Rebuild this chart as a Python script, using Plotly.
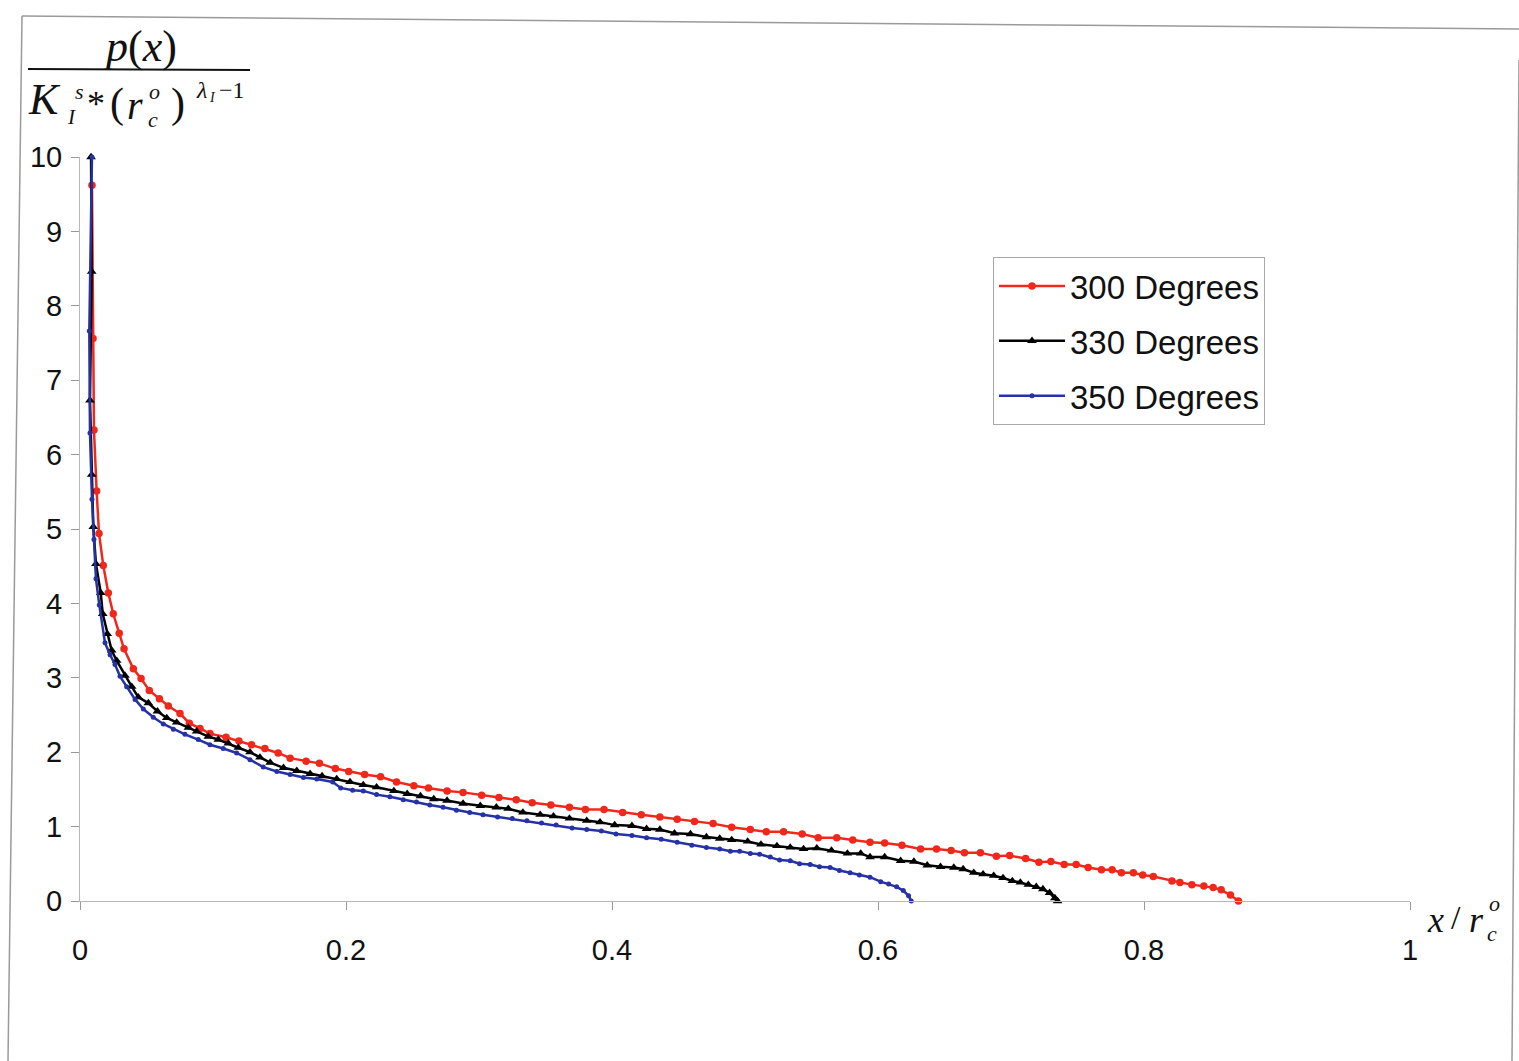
import plotly.graph_objects as go

# ---------------- data ----------------
x_300 = [0.009, 0.0098, 0.0105, 0.0125, 0.0143, 0.0175, 0.0213, 0.0250, 0.0295, 0.0331,
         0.0401, 0.0459, 0.0521, 0.0597, 0.0664, 0.0752, 0.0822, 0.0902, 0.0977, 0.1098,
         0.1195, 0.129, 0.139, 0.149, 0.158, 0.170, 0.180, 0.192, 0.202, 0.214,
         0.226, 0.238, 0.251, 0.262, 0.276, 0.288, 0.302, 0.315, 0.328, 0.340,
         0.354, 0.368, 0.380, 0.394, 0.408, 0.422, 0.436, 0.449, 0.462, 0.476,
         0.490, 0.504, 0.516, 0.529, 0.543, 0.555, 0.569, 0.581, 0.594, 0.605,
         0.618, 0.632, 0.644, 0.655, 0.665, 0.677, 0.689, 0.699, 0.711, 0.721,
         0.730, 0.740, 0.749, 0.758, 0.768, 0.776, 0.783, 0.792, 0.799, 0.807,
         0.821, 0.827, 0.836, 0.845, 0.852, 0.858, 0.865, 0.871]
y_300 = [9.62, 7.56, 6.33, 5.51, 4.94, 4.51, 4.14, 3.86, 3.60, 3.39,
         3.12, 2.99, 2.83, 2.72, 2.62, 2.52, 2.39, 2.32, 2.25, 2.20,
         2.15, 2.10, 2.05, 1.99, 1.92, 1.88, 1.85, 1.78, 1.74, 1.70,
         1.67, 1.60, 1.55, 1.52, 1.48, 1.46, 1.42, 1.39, 1.36, 1.32,
         1.29, 1.26, 1.23, 1.23, 1.19, 1.16, 1.13, 1.10, 1.07, 1.04,
         0.99, 0.96, 0.93, 0.93, 0.90, 0.85, 0.85, 0.82, 0.79, 0.78,
         0.75, 0.70, 0.70, 0.68, 0.65, 0.65, 0.60, 0.61, 0.57, 0.52,
         0.53, 0.49, 0.49, 0.45, 0.42, 0.42, 0.38, 0.38, 0.35, 0.33,
         0.27, 0.25, 0.22, 0.20, 0.18, 0.15, 0.08, 0.00]

x_330 = [0.0083, 0.0088, 0.0075, 0.0088, 0.0100, 0.0120, 0.0156, 0.0171, 0.0205, 0.0238,
         0.0276, 0.0338, 0.0389, 0.0438, 0.0514, 0.0582, 0.0652, 0.0727, 0.0815, 0.0877,
         0.0965, 0.1040, 0.1115, 0.1190, 0.1278, 0.1353, 0.143, 0.153, 0.163, 0.173,
         0.182, 0.193, 0.203, 0.213, 0.223, 0.236, 0.246, 0.256, 0.266, 0.276,
         0.288, 0.301, 0.313, 0.322, 0.333, 0.346, 0.356, 0.368, 0.381, 0.391,
         0.402, 0.415, 0.426, 0.436, 0.447, 0.459, 0.471, 0.481, 0.490, 0.502,
         0.512, 0.524, 0.534, 0.544, 0.554, 0.565, 0.577, 0.587, 0.594, 0.605,
         0.617, 0.627, 0.637, 0.647, 0.657, 0.664, 0.672, 0.679, 0.687, 0.694,
         0.701, 0.707, 0.713, 0.719, 0.724, 0.729, 0.733, 0.735]
y_330 = [10.0, 8.46, 6.73, 5.73, 5.03, 4.53, 4.14, 3.86, 3.59, 3.37,
         3.23, 3.03, 2.88, 2.74, 2.66, 2.55, 2.46, 2.40, 2.33, 2.28,
         2.21, 2.17, 2.12, 2.06, 2.00, 1.93, 1.86, 1.79, 1.75, 1.71,
         1.68, 1.64, 1.60, 1.56, 1.53, 1.48, 1.44, 1.41, 1.37, 1.35,
         1.31, 1.28, 1.26, 1.24, 1.19, 1.16, 1.14, 1.11, 1.08, 1.06,
         1.02, 1.01, 0.97, 0.96, 0.91, 0.90, 0.86, 0.84, 0.82, 0.80,
         0.76, 0.74, 0.72, 0.70, 0.71, 0.68, 0.64, 0.64, 0.59, 0.59,
         0.54, 0.53, 0.48, 0.46, 0.45, 0.43, 0.38, 0.36, 0.34, 0.31,
         0.27, 0.25, 0.22, 0.19, 0.16, 0.11, 0.04, 0.00]

x_350 = [0.0090, 0.0070, 0.0075, 0.0090, 0.0105, 0.0120, 0.0145, 0.0188, 0.0226, 0.0263,
         0.0301, 0.0351, 0.0414, 0.0476, 0.0551, 0.0626, 0.0702, 0.0789, 0.0889, 0.0977,
         0.1077, 0.1178, 0.1278, 0.1378, 0.148, 0.158, 0.168, 0.178, 0.190, 0.196,
         0.205, 0.213, 0.223, 0.233, 0.243, 0.253, 0.263, 0.273, 0.283, 0.293,
         0.303, 0.314, 0.325, 0.336, 0.347, 0.358, 0.370, 0.381, 0.392, 0.403,
         0.415, 0.426, 0.437, 0.449, 0.460, 0.471, 0.481, 0.489, 0.496, 0.504,
         0.511, 0.519, 0.526, 0.534, 0.541, 0.549, 0.556, 0.564, 0.571, 0.579,
         0.586, 0.594, 0.602, 0.608, 0.614, 0.619, 0.623, 0.625]
y_350 = [10.0, 7.66, 6.29, 5.40, 4.86, 4.33, 3.98, 3.47, 3.31, 3.18,
         3.02, 2.88, 2.71, 2.58, 2.47, 2.38, 2.31, 2.24, 2.17, 2.10,
         2.05, 1.99, 1.90, 1.80, 1.74, 1.70, 1.66, 1.64, 1.60, 1.52,
         1.49, 1.48, 1.43, 1.40, 1.36, 1.33, 1.29, 1.26, 1.22, 1.19,
         1.16, 1.13, 1.11, 1.08, 1.05, 1.02, 0.98, 0.96, 0.94, 0.90,
         0.88, 0.85, 0.83, 0.79, 0.75, 0.72, 0.70, 0.67, 0.67, 0.64,
         0.63, 0.59, 0.55, 0.54, 0.50, 0.49, 0.46, 0.45, 0.41, 0.38,
         0.35, 0.32, 0.26, 0.23, 0.19, 0.14, 0.07, 0.00]

series_names = ["300 Degrees", "330 Degrees", "350 Degrees"]
x_ticks = [0, 0.2, 0.4, 0.6, 0.8, 1]
x_tick_text = ["0", "0.2", "0.4", "0.6", "0.8", "1"]
y_ticks = list(range(0, 11))

# ---------------- figure ----------------
W, H = 1519, 1061
L, R, T, B = 80, 1410, 157, 901   # plot area in pixels


def P(px, py):
    return (px - L) / (R - L), (B - py) / (B - T)


fig = go.Figure()
styles = [
    dict(color="#f0281c", symbol="circle", msize=7.5, lw=2.5),
    dict(color="#000000", symbol="triangle-up", msize=8.5, lw=2.5),
    dict(color="#2532a6", symbol="circle", msize=5, lw=2.5),
]
for xs, ys, name, st, grp in zip([x_300, x_330, x_350], [y_300, y_330, y_350],
                                 series_names, styles, ["a", "b", "c"]):
    fig.add_trace(go.Scatter(
        x=xs, y=ys, name=name, mode="lines+markers", legendgroup=grp,
        line=dict(color=st["color"], width=st["lw"]),
        marker=dict(color=st["color"], symbol=st["symbol"], size=st["msize"]),
        cliponaxis=False,
    ))

axis_common = dict(
    showline=True, linecolor="#b8b8b8", linewidth=1,
    ticks="outside", ticklen=8, tickcolor="#9a9a9a", tickwidth=1,
    showgrid=False, zeroline=False,
    tickfont=dict(family="Liberation Sans, Arial, sans-serif", size=29, color="#111111"),
)

fig.update_layout(
    width=W, height=H,
    margin=dict(l=L, r=W - R, t=T, b=H - B, pad=0),
    paper_bgcolor="white", plot_bgcolor="white",
    xaxis=dict(range=[0, 1], tickvals=x_ticks, ticktext=x_tick_text,
               ticklabelstandoff=15, **axis_common),
    yaxis=dict(range=[0, 10], tickvals=y_ticks, ticklabelstandoff=3, **axis_common),
    showlegend=True,
    legend=dict(
        x=P(993, 0)[0], y=P(0, 257)[1], xanchor="left", yanchor="top",
        bgcolor="white", bordercolor="#a8a8a8", borderwidth=1,
        font=dict(family="Liberation Sans, Arial, sans-serif", size=33, color="#111111"),
        itemwidth=66, tracegroupgap=9,
    ),
)

serif = "Liberation Serif, Times New Roman, serif"
anns = [
    # fraction label (numerator)
    ("<i>p</i>(<i>x</i>)", 140, 47, 44, False),
    # denominator
    ("K", 44, 99, 44, True),
    ("s", 79, 91, 22, True),
    ("I", 71, 117, 21, True),
    ("*", 96, 104, 36, False),
    ("(", 117, 103, 42, False),
    ("r", 135, 106, 40, True),
    ("o", 154, 92, 22, True),
    ("c", 153, 120, 22, True),
    (")", 178, 103, 42, False),
    ("λ", 201, 90, 24, True),
    ("I", 212, 98, 14, True),
    ("−1", 232, 90, 24, False),
    # x-axis label
    ("x", 1435, 920, 36, True),
    ("/", 1456, 917, 34, False),
    ("r", 1476, 920, 36, True),
    ("o", 1495, 903, 22, True),
    ("c", 1492, 933, 22, True),
]
for txt, px, py, size, ital in anns:
    ax, ay = P(px, py)
    fig.add_annotation(
        x=ax, y=ay, xref="paper", yref="paper", text=txt, showarrow=False,
        xanchor="center", yanchor="middle",
        font=dict(family=serif, size=size, color="#111111",
                  style="italic" if ital else "normal"),
    )

# fraction bar
x0, y0 = P(28, 69)
x1, y1 = P(250, 70)
fig.add_shape(type="line", xref="paper", yref="paper", x0=x0, y0=y0, x1=x1, y1=y1,
              line=dict(color="#111111", width=2))

# scanned page frame
frame = [((22, 16), (1519, 29)), ((22, 16), (8, 1061)), ((1519, 60), (1512, 1061))]
for (ax0, ay0), (ax1, ay1) in frame:
    a0 = P(ax0, ay0)
    a1 = P(ax1, ay1)
    fig.add_shape(type="line", xref="paper", yref="paper",
                  x0=a0[0], y0=a0[1], x1=a1[0], y1=a1[1],
                  line=dict(color="#9a9a9a", width=1.5))

fig.write_html("out.html")
